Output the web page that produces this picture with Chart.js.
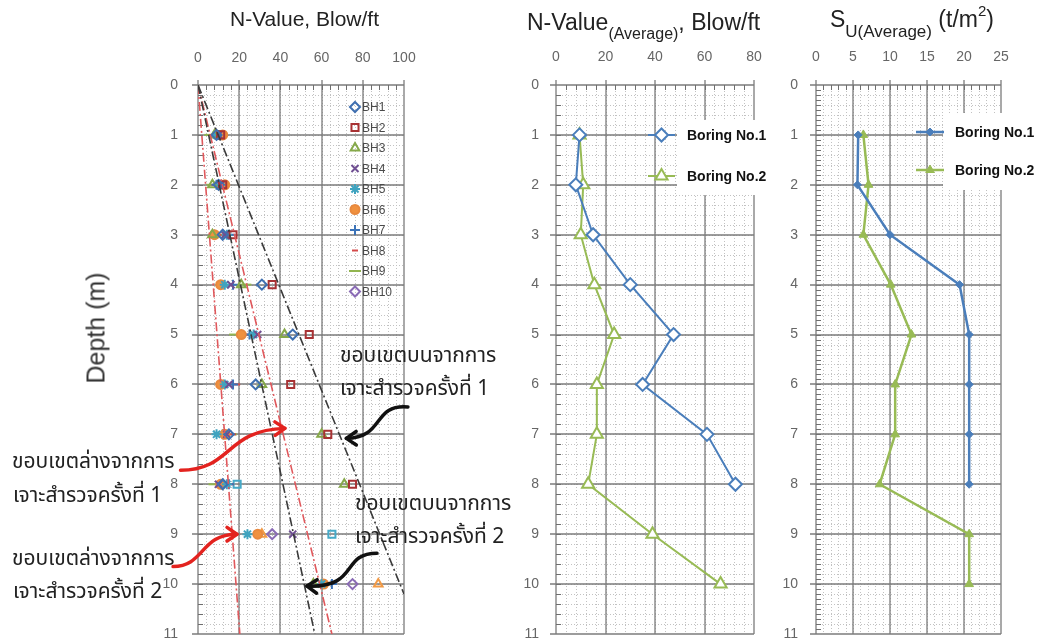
<!DOCTYPE html>
<html><head><meta charset="utf-8">
<script src="https://cdn.jsdelivr.net/npm/chart.js@4.4.1/dist/chart.umd.min.js"></script>
<style>
html,body{margin:0;padding:0;background:#fff}
body{width:1042px;height:643px;position:relative;overflow:hidden;font-family:"Liberation Sans",Arial,sans-serif}
.box{position:absolute;top:0;height:643px}
.t{position:absolute;white-space:nowrap;color:#1e1e1e;z-index:5;line-height:1}
.th{font-family:"Noto Sans Thai","Tahoma","Noto Sans","DejaVu Sans",sans-serif;font-size:21px;color:#222}
sub{line-height:0}
sup{line-height:0}
</style></head><body>
<div class="box" style="left:0;width:520px"><canvas id="c1"></canvas></div>
<div class="box" style="left:510px;width:262px"><canvas id="c2"></canvas></div>
<div class="box" style="left:772px;width:270px"><canvas id="c3"></canvas></div>

<div class="t" style="left:230px;top:8px;font-size:21px;color:#222">N-Value, Blow/ft</div>
<div class="t" style="left:527px;top:11px;font-size:23px;color:#222">N-Value<sub style="font-size:16px;vertical-align:-9px">(Average)</sub>, Blow/ft</div>
<div class="t" style="left:830px;top:8px;font-size:23px;color:#222">S<sub style="font-size:17px;vertical-align:-10px">U(Average)</sub> (t/m<sup style="font-size:15px;vertical-align:11px">2</sup>)</div>
<div class="t" style="left:96px;top:328px;font-size:25px;color:#333;transform:translate(-50%,-50%) rotate(-90deg);transform-origin:center">Depth (m)</div>

<div class="t th" style="left:340px;top:345px">ขอบเขตบนจากการ</div>
<div class="t th" style="left:340px;top:378px">เจาะสำรวจครั้งที่ 1</div>
<div class="t th" style="left:12px;top:451px">ขอบเขตล่างจากการ</div>
<div class="t th" style="left:13px;top:485px">เจาะสำรวจครั้งที่ 1</div>
<div class="t th" style="left:355px;top:493px">ขอบเขตบนจากการ</div>
<div class="t th" style="left:355px;top:526px">เจาะสำรวจครั้งที่ 2</div>
<div class="t th" style="left:12px;top:548px">ขอบเขตล่างจากการ</div>
<div class="t th" style="left:13px;top:581px">เจาะสำรวจครั้งที่ 2</div>

<script>
// ---------------- DATA ----------------
const depths = [1, 2, 3, 4, 5, 6, 7, 8, 9, 10];
const bh1  = [9, 10, 12, 31, 46, 28, 15, 12, null, null];
const bh2  = [11, 12, 17, 36, 54, 45, 63, 75, null, null];
const bh3  = [8, 7, 7, 21, 42, 31, 60, 71, null, 56];
const bh4  = [10, 11, 13, 16, 29, 15, 14, 10, 46, null];
const bh5  = [9, 11, 14, 13, 27, 13, 9, 14, 24, 60];
const bh6  = [12, 13, 8, 11, 21, 11, 13, 11, 29, 61];
const bh7  = [10, 9, 15, 17, 25, 17, 12, 15, null, 65];
const bh8  = [7, 8, 10, 12, 24, 19, 17, 16, null, null];
const bh9  = [6, 7, 9, 23, 18, 14, 16, 8, null, null];
const bh10 = [null, null, null, null, null, null, null, null, 36, 75];
const bh11 = [null, null, null, null, null, null, null, 19, 65, null];
const bh12 = [null, null, null, null, null, null, null, null, 31, 87.5];
const bhLabels = ['BH1','BH2','BH3','BH4','BH5','BH6','BH7','BH8','BH9','BH10'];

const upper1X = [0, 100],  upper1Y = [0, 10.2];
const upper2X = [0, 56.7], upper2Y = [0, 11];
const lower1X = [0, 65],   lower1Y = [0, 11];
const lower2X = [0, 20.3], lower2Y = [0, 11];

const boringLabels = ['Boring No.1', 'Boring No.2'];
const avgDepth1 = [1, 2, 3, 4, 5, 6, 7, 8];
const avgN1 = [9.5, 8, 15, 30, 47.5, 35, 61, 72.5];
const avgDepth2 = [1, 2, 3, 4, 5, 6, 7, 8, 9, 10];
const avgN2 = [9.5, 11, 10, 15.5, 23.5, 16.5, 16.5, 13, 39, 66.5];

const suDepth1 = [1, 2, 3, 4, 5, 6, 7, 8];
const su1 = [5.7, 5.6, 10, 19.4, 20.7, 20.7, 20.7, 20.7];
const suDepth2 = [1, 2, 3, 4, 5, 6, 7, 8, 9, 10];
const su2 = [6.4, 7.1, 6.4, 10.1, 12.9, 10.7, 10.7, 8.6, 20.7, 20.7];

const nTicksLeft = [0, 20, 40, 60, 80, 100];
const nTicksMid = [0, 20, 40, 60, 80];
const suTicks = [0, 5, 10, 15, 20, 25];
const depthTicks = [0,1,2,3,4,5,6,7,8,9,10,11];

// ---------------- HELPERS ----------------
const pts = (xs, ys) => xs.map((v, i) => (v === null || ys[i] === null) ? null : {x: v, y: ys[i]}).filter(Boolean);
const TF = {family: '"Liberation Sans", Arial, sans-serif', size: 14};
const GRID = '#7b7b7b';

function scales(xTicks, xPad, yPad) {
  return {
    x: {
      type: 'linear', position: 'top', min: xTicks[0], max: xTicks[xTicks.length-1],
      afterBuildTicks: s => { s.ticks = xTicks.map(v => ({value: v})); },
      afterFit: s => { s.height = 45; s.paddingLeft = 0; s.paddingRight = 0; },
      ticks: {color: '#666', font: TF, padding: xPad, maxRotation: 0},
      grid: {display: false, drawTicks: false},
      border: {display: false}
    },
    y: {
      type: 'linear', reverse: true, min: 0, max: 11,
      afterBuildTicks: s => { s.ticks = depthTicks.map(v => ({value: v})); },
      afterFit: s => { s.width = 44; s.paddingTop = 0; s.paddingBottom = 0; },
      ticks: {color: '#666', font: TF, padding: yPad},
      grid: {display: false, drawTicks: false},
      border: {display: false}
    }
  };
}

function seg(ctx, x0, y0, x1, y1) { ctx.beginPath(); ctx.moveTo(x0, y0); ctx.lineTo(x1, y1); ctx.stroke(); }

const gridPlugin = {
  id: 'gridPlugin',
  beforeDatasetsDraw(chart, args, o) {
    const {ctx, chartArea: a} = chart;
    const x = chart.scales.x, y = chart.scales.y;
    ctx.save();
    ctx.setLineDash([]);
    ctx.fillStyle = '#fff';
    ctx.fillRect(a.left, a.top, a.right - a.left, a.bottom - a.top);
    // minor dotted grid
    ctx.strokeStyle = '#c2c2c2'; ctx.lineWidth = 1; ctx.setLineDash([1, 2]);
    const nx = Math.round((x.max - x.min) / o.x);
    for (let i = 1; i < nx; i++) { const px = Math.round(x.getPixelForValue(x.min + i * o.x)) + 0.5; seg(ctx, px, a.top, px, a.bottom); }
    const ny = Math.round((y.max - y.min) / o.y);
    for (let i = 1; i < ny; i++) { const py = Math.round(y.getPixelForValue(y.min + i * o.y)) + 0.5; seg(ctx, a.left, py, a.right, py); }
    // major solid grid + outer tick marks
    ctx.setLineDash([]);
    ctx.strokeStyle = GRID; ctx.lineWidth = 1.3;
    const T = Math.round(a.top), L = Math.round(a.left);
    for (const t of x.ticks) { const px = Math.round(x.getPixelForValue(t.value)); seg(ctx, px, T - 5, px, a.bottom); }
    for (const t of y.ticks) { const py = Math.round(y.getPixelForValue(t.value)); seg(ctx, L - 6, py, a.right, py); }
    // minor inside tick marks
    ctx.lineWidth = 1; ctx.strokeStyle = '#6e6e6e';
    for (let i = 1; i < nx; i++) { const px = Math.round(x.getPixelForValue(x.min + i * o.x)) + 0.5; seg(ctx, px, T, px, T + 5); }
    const nt = Math.round((y.max - y.min) / o.yTick);
    for (let i = 1; i < nt; i++) { const py = Math.round(y.getPixelForValue(y.min + i * o.yTick)) + 0.5; seg(ctx, L, py, L + 5, py); }
    ctx.restore();
  }
};

function drawMarker(ctx, style, r, bw, cx, cy) {
  if (Chart.helpers && Chart.helpers.drawPoint) {
    Chart.helpers.drawPoint(ctx, {pointStyle: style, radius: r, borderWidth: bw, rotation: 0}, cx, cy);
  }
}

const bhLegend = {
  id: 'bhLegend',
  afterDatasetsDraw(chart) {
    const {ctx, chartArea: a} = chart;
    ctx.save();
    bhLabels.forEach((lab, i) => {
      const ds = chart.data.datasets.find(d => d.label === lab);
      const cx = a.right - 49, cy = a.top + 22 + i * 20.5;
      ctx.strokeStyle = ds.borderColor; ctx.fillStyle = ds.backgroundColor; ctx.lineWidth = ds.borderWidth;
      drawMarker(ctx, ds.pointStyle, ds.pointRadius, ds.borderWidth, cx, cy);
      ctx.fillStyle = '#4a4a4a'; ctx.font = '12px "Liberation Sans", Arial, sans-serif';
      ctx.textBaseline = 'middle'; ctx.textAlign = 'left';
      ctx.fillText(lab, cx + 7, cy + 1);
    });
    ctx.restore();
  }
};

const boxLegend = {
  id: 'boxLegend',
  afterDatasetsDraw(chart, args, o) {
    const {ctx, chartArea: a} = chart;
    ctx.save();
    ctx.fillStyle = '#fff';
    ctx.fillRect(a.right + o.boxLeft, a.top + o.boxTop, o.boxW, o.boxH);
    chart.data.datasets.forEach((ds, i) => {
      const cy = a.top + o.rows[i];
      const x0 = a.right + o.lineX0, x1 = a.right + o.lineX1;
      ctx.strokeStyle = ds.borderColor; ctx.lineWidth = ds.borderWidth;
      ctx.beginPath(); ctx.moveTo(x0, cy); ctx.lineTo(x1, cy); ctx.stroke();
      ctx.fillStyle = ds.pointBackgroundColor; ctx.lineWidth = ds.pointBorderWidth;
      drawMarker(ctx, ds.pointStyle, ds.pointRadius, ds.pointBorderWidth, (x0 + x1) / 2, cy);
      ctx.fillStyle = '#111'; ctx.font = 'bold 14px "Liberation Sans", Arial, sans-serif';
      ctx.textBaseline = 'middle'; ctx.textAlign = 'left';
      ctx.fillText(ds.label, a.right + o.textX, cy + 1);
    });
    ctx.restore();
  }
};

const arrows = {
  id: 'arrows',
  afterDraw(chart, args, o) {
    const {ctx} = chart; const x = chart.scales.x, y = chart.scales.y;
    ctx.save();
    o.list.forEach(ar => {
      const p = ar.pts.map(q => [x.getPixelForValue(q[0]), y.getPixelForValue(q[1])]);
      ctx.strokeStyle = ar.color; ctx.lineWidth = 3.5; ctx.lineCap = 'round'; ctx.lineJoin = 'round';
      ctx.beginPath(); ctx.moveTo(p[0][0], p[0][1]);
      ctx.bezierCurveTo(p[1][0], p[1][1], p[2][0], p[2][1], p[3][0], p[3][1]);
      ctx.stroke();
      const ang = Math.atan2(p[3][1] - p[2][1], p[3][0] - p[2][0]);
      const L = 12, sp = 0.6;
      ctx.beginPath();
      ctx.moveTo(p[3][0] - L * Math.cos(ang - sp), p[3][1] - L * Math.sin(ang - sp));
      ctx.lineTo(p[3][0], p[3][1]);
      ctx.lineTo(p[3][0] - L * Math.cos(ang + sp), p[3][1] - L * Math.sin(ang + sp));
      ctx.stroke();
    });
    ctx.restore();
  }
};

// ---------------- CHART 1 ----------------
function bhSet(label, vals, style, color, fill, r) {
  return {label, data: pts(vals, depths), pointStyle: style, borderColor: color,
          backgroundColor: fill, pointRadius: r || 5, pointHoverRadius: r || 5, borderWidth: 2, showLine: false};
}
function boundSet(label, xs, ys, color, dash) {
  return {label, data: pts(xs, ys), showLine: true, pointRadius: 0, borderColor: color,
          borderWidth: 1.6, borderDash: dash, backgroundColor: color, fill: false};
}
const NOFILL = 'rgba(0,0,0,0)';

new Chart(document.getElementById('c1'), {
  type: 'scatter',
  data: {datasets: [
    boundSet('upper1', upper1X, upper1Y, '#3a3a3a', [9, 3, 2, 3]),
    boundSet('upper2', upper2X, upper2Y, '#3a3a3a', [9, 3, 2, 3]),
    boundSet('lower1', lower1X, lower1Y, '#e0585c', [9, 3, 2, 3]),
    boundSet('lower2', lower2X, lower2Y, '#e0585c', [9, 3, 2, 3]),
    bhSet('BH1', bh1, 'rectRot', '#3f6fb0', NOFILL),
    bhSet('BH2', bh2, 'rect', '#a83234', NOFILL, 5),
    bhSet('BH3', bh3, 'triangle', '#86a94a', NOFILL),
    bhSet('BH4', bh4, 'crossRot', '#6f4f92', NOFILL),
    bhSet('BH5', bh5, 'star', '#3fa3bf', NOFILL),
    bhSet('BH6', bh6, 'circle', '#e8893e', '#f0913f', 4.5),
    bhSet('BH7', bh7, 'cross', '#3c73b8', NOFILL),
    bhSet('BH8', bh8, 'line', '#d44a4a', NOFILL, 3),
    bhSet('BH9', bh9, 'line', '#92b550', NOFILL, 6),
    bhSet('BH10', bh10, 'rectRot', '#8a6bb5', NOFILL),
    bhSet('BH11', bh11, 'rect', '#46aac8', NOFILL, 5),
    bhSet('BH12', bh12, 'triangle', '#f29a45', NOFILL)
  ]},
  options: {
    responsive: true, maintainAspectRatio: false, animation: false,
    layout: {padding: {left: 154, right: 116, top: 40, bottom: 9}},
    scales: scales(nTicksLeft, 18, 20),
    plugins: {
      legend: {display: false}, tooltip: {enabled: false},
      gridPlugin: {x: 4, y: 0.2, yTick: 0.2},
      arrows: {list: [
        {color: '#e3231f', pts: [[-8.5, 7.72], [16.5, 7.72], [13.1, 6.91], [42.2, 6.88]]},
        {color: '#e3231f', pts: [[-12.1, 9.65], [3.4, 9.64], [1.0, 9.0], [18.9, 9.0]]},
        {color: '#111', pts: [[101.9, 6.45], [84.5, 6.39], [90.8, 7.07], [72.0, 7.08]]},
        {color: '#111', pts: [[86.9, 9.38], [68.9, 9.38], [78.6, 10.08], [52.9, 10.04]]}
      ]}
    }
  },
  plugins: [gridPlugin, bhLegend, arrows]
});

// ---------------- CHART 2 ----------------
new Chart(document.getElementById('c2'), {
  type: 'scatter',
  data: {datasets: [
    {label: boringLabels[0], data: pts(avgN1, avgDepth1), showLine: true, borderColor: '#4a7ebb', borderWidth: 2,
     pointStyle: 'rectRot', pointRadius: 6.5, pointBorderWidth: 2, pointBorderColor: '#4a7ebb', pointBackgroundColor: '#fff'},
    {label: boringLabels[1], data: pts(avgN2, avgDepth2), showLine: true, borderColor: '#98bb55', borderWidth: 2,
     pointStyle: 'triangle', pointRadius: 7, pointBorderWidth: 2, pointBorderColor: '#98bb55', pointBackgroundColor: '#fff'}
  ]},
  options: {
    responsive: true, maintainAspectRatio: false, animation: false,
    layout: {padding: {left: 2, right: 18, top: 40, bottom: 9}},
    scales: scales(nTicksMid, 19, 17),
    plugins: {
      legend: {display: false}, tooltip: {enabled: false},
      gridPlugin: {x: 4, y: 0.2, yTick: 0.2},
      boxLegend: {boxLeft: -77, boxTop: 35, boxW: 86, boxH: 75, rows: [50, 91], lineX0: -106, lineX1: -79, textX: -67}
    }
  },
  plugins: [gridPlugin, boxLegend]
});

// ---------------- CHART 3 ----------------
new Chart(document.getElementById('c3'), {
  type: 'scatter',
  data: {datasets: [
    {label: boringLabels[0], data: pts(su1, suDepth1), showLine: true, borderColor: '#4a7ebb', borderWidth: 2.5,
     pointStyle: 'rectRot', pointRadius: 4, pointBorderWidth: 1, pointBorderColor: '#4a7ebb', pointBackgroundColor: '#4a7ebb'},
    {label: boringLabels[1], data: pts(su2, suDepth2), showLine: true, borderColor: '#98bb55', borderWidth: 2.5,
     pointStyle: 'triangle', pointRadius: 5, pointBorderWidth: 1, pointBorderColor: '#98bb55', pointBackgroundColor: '#98bb55'}
  ]},
  options: {
    responsive: true, maintainAspectRatio: false, animation: false,
    layout: {padding: {left: 0, right: 41, top: 40, bottom: 9}},
    scales: scales(suTicks, 19, 18),
    plugins: {
      legend: {display: false}, tooltip: {enabled: false},
      gridPlugin: {x: 1, y: 0.2, yTick: 0.1},
      boxLegend: {boxLeft: -58, boxTop: 28, boxW: 100, boxH: 77, rows: [47, 85], lineX0: -85, lineX1: -57, textX: -46}
    }
  },
  plugins: [gridPlugin, boxLegend]
});
</script>
</body></html>
